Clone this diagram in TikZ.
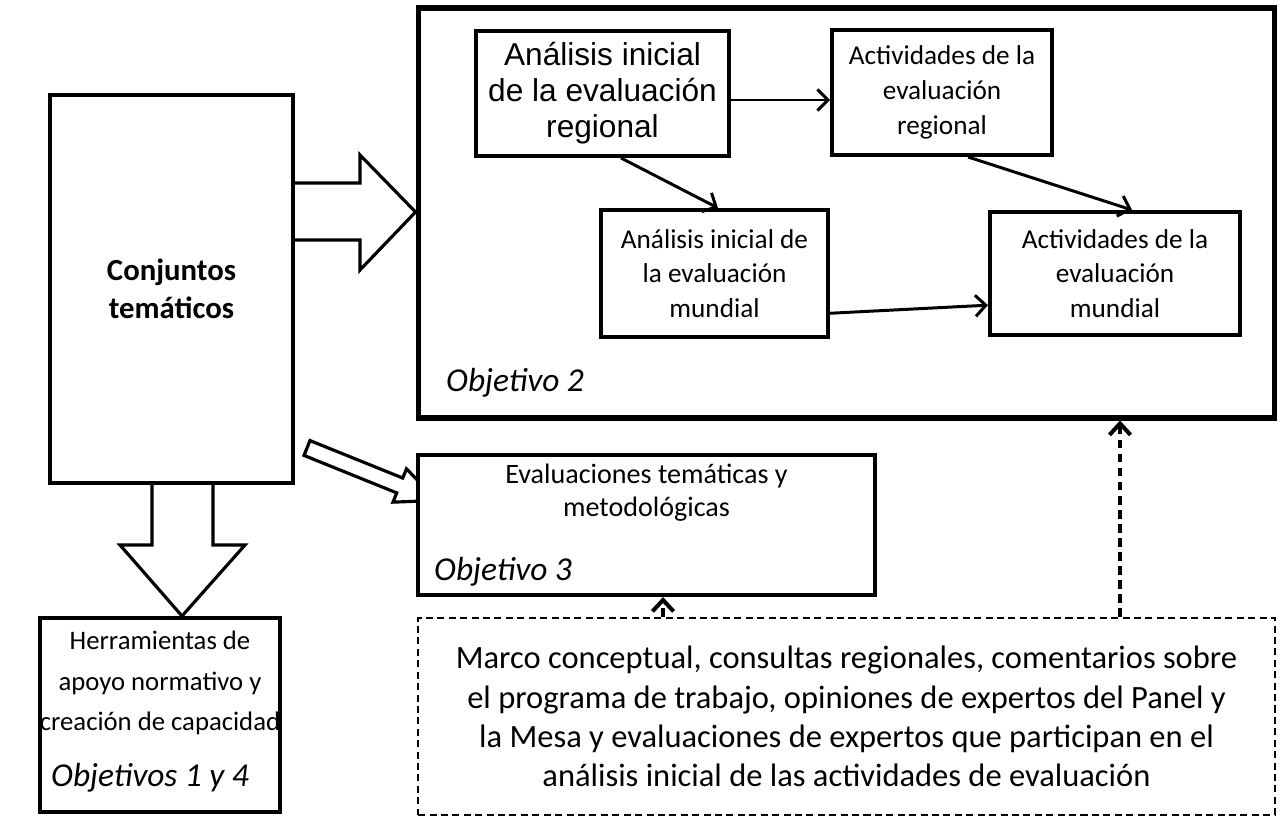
\documentclass[tikz,border=0pt]{standalone}
\usepackage{fontspec}
\setmainfont{Carlito}
\newfontfamily\arialfont{Liberation Sans}
\usetikzlibrary{arrows.meta,backgrounds}

\begin{document}
\begin{tikzpicture}[x=0.02cm,y=-0.02cm,
  box/.style={draw,line width=2.3pt,align=center,inner sep=0pt},
  link/.style={-{Straight Barb[length=6pt,width=12pt]},line width=1.7pt},
  dashlink/.style={-{Straight Barb[length=6.5pt,width=12pt]},line width=2.3pt,dash pattern=on 5pt off 3pt},
  blockarrow/.style={draw,fill=white,line width=1.8pt,line join=miter},
  objlabel/.style={anchor=west,font=\fontsize{19}{22}\selectfont\itshape}]

\useasboundingbox (0,0) rectangle (1283,817);

% left column
\node[box,minimum width=4.86cm,minimum height=7.76cm,
  font=\fontsize{17.5}{21.5}\selectfont\bfseries] (conj) at (171.5,289) {Conjuntos\\temáticos};
\node[box,minimum width=4.8cm,minimum height=3.88cm] (herr) at (160,715) {};
\node[font=\fontsize{15.2}{23}\selectfont,align=center] (herrtext) at (160,683)
  {Herramientas de\\apoyo normativo y\\creación de capacidad};
\node[objlabel] (obj14) at (45,778) {Objetivos 1 y 4};

% objetivo 2
\node[box,line width=2.9pt,minimum width=17.14cm,minimum height=8.2cm] (obj2) at (846.5,213) {};
\node[objlabel] (obj2label) at (440,383) {Objetivo 2};

\node[box,minimum width=5.06cm,minimum height=2.5cm,
  font=\arialfont\fontsize{18}{20.5}\selectfont] (regini) at (602.5,93.5)
  {Análisis inicial\\de la evaluación\\regional};
\node[box,minimum width=4.4cm,minimum height=2.5cm,
  font=\fontsize{15.5}{19.8}\selectfont] (regact) at (942,92.5)
  {Actividades de la\\evaluación\\regional};
\node[box,minimum width=4.54cm,minimum height=2.54cm,
  font=\fontsize{15.5}{19.8}\selectfont] (munini) at (714.5,273.5)
  {Análisis inicial de\\la evaluación\\mundial};
\node[box,minimum width=5cm,minimum height=2.46cm,
  font=\fontsize{15.5}{19.8}\selectfont] (munact) at (1115,273.5)
  {Actividades de la\\evaluación\\mundial};

\draw[link] (regini.east |- 0,100) -- (regact.west |- 0,100);
\draw[link] (regini.-74) -- (munini.87);
\draw[link] (regact.-68) -- (munact.75);
\draw[link] (munini.-19) -- (munact.-166);

% objetivo 3
\node[box,fill=white,minimum width=9.14cm,minimum height=2.8cm] (obj3) at (646.5,525) {};
\node[font=\fontsize{16}{18.7}\selectfont,align=center] (obj3text) at (646.5,493)
  {Evaluaciones temáticas y\\metodológicas};
\node[objlabel] (obj3label) at (428,572) {Objetivo 3};

% aportaciones
\node[box,line width=1.2pt,dash pattern=on 4pt off 2.5pt,minimum width=17.14cm,minimum height=3.94cm,
  font=\fontsize{18.5}{22.3}\selectfont] (marco) at (846.5,716.5)
  {Marco conceptual, consultas regionales, comentarios sobre\\
   el programa de trabajo, opiniones de expertos del Panel y\\
   la Mesa y evaluaciones de expertos que participan en el\\
   análisis inicial de las actividades de evaluación};

\draw[dashlink] (marco.north -| 663,0) -- (obj3.south -| 663,0);
\draw[dashlink] (marco.north -| 1120,0) -- (obj2.south -| 1120,0);

% block arrows
\begin{scope}[on background layer]
\draw[blockarrow] (conj.east |- 0,183) -- (360,183) -- (360,155) -- (obj2.west |- 0,212)
  -- (360,270) -- (360,240) -- (conj.east |- 0,240);
\draw[blockarrow] (conj.south -| 152,0) -- (152,545) -- (120,545) -- (herr.north -| 182,0)
  -- (245,545) -- (213,545) -- (conj.south -| 213,0);
\draw[blockarrow,shift={(307,448)},rotate=-22]
  (0,-8) -- (100,-8) -- (100,-18) -- (140,0) -- (100,18) -- (100,8) -- (0,8) -- cycle;
\end{scope}

\end{tikzpicture}
\end{document}
